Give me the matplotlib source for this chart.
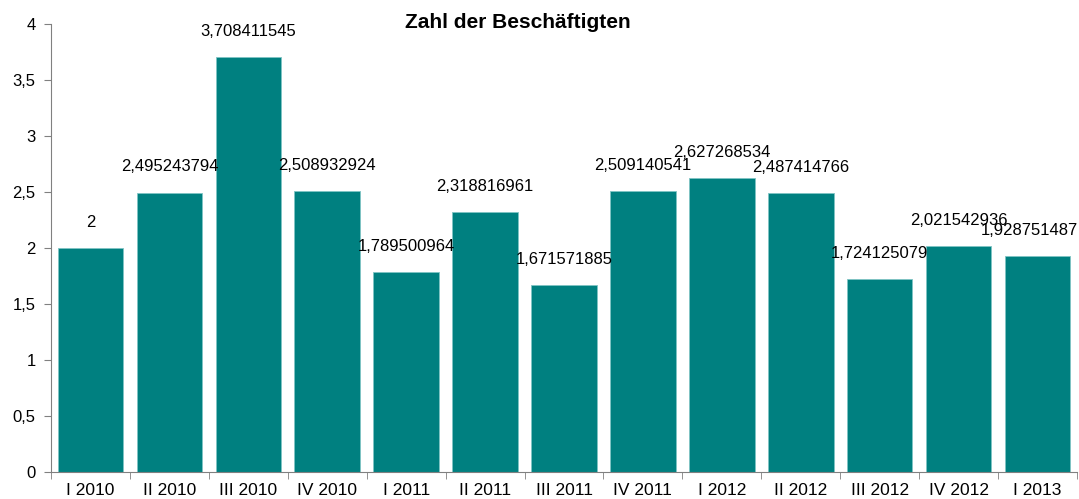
import matplotlib.pyplot as plt
import numpy as np

plt.rcParams['font.family'] = ['Liberation Sans', 'DejaVu Sans']

quarters = ["I 2010", "II 2010", "III 2010", "IV 2010", "I 2011", "II 2011",
            "III 2011", "IV 2011", "I 2012", "II 2012", "III 2012", "IV 2012",
            "I 2013"]
values = [2, 2.495243794, 3.708411545, 2.508932924, 1.789500964, 2.318816961,
          1.671571885, 2.509140541, 2.627268534, 2.487414766, 1.724125079,
          2.021542936, 1.928751487]
labels = ["2", "2,495243794", "3,708411545", "2,508932924", "1,789500964",
          "2,318816961", "1,671571885", "2,509140541", "2,627268534",
          "2,487414766", "1,724125079", "2,021542936", "1,928751487"]
yticks = [0, 0.5, 1, 1.5, 2, 2.5, 3, 3.5, 4]
ytick_labels = ["0", "0,5", "1", "1,5", "2", "2,5", "3", "3,5", "4"]

fig = plt.figure(figsize=(10.79, 4.99), dpi=100)
ax = fig.add_axes([51 / 1079, 27 / 499, 1026 / 1079, 448 / 499])

x = np.arange(len(quarters))
ax.bar(x, values, width=0.83, color="#008080", edgecolor="#7fc4c4", linewidth=0.6)

for i, (xi, v, lab) in enumerate(zip(x, values, labels)):
    # last label pushed left so it stays inside the picture, like Excel does
    dx = -6 if i == len(values) - 1 else 0
    ax.annotate(lab, (xi, v), xytext=(dx, 13), textcoords="offset points",
                ha="center", va="bottom", fontsize=12)

ax.set_xlim(-0.5, len(quarters) - 0.5)
ax.set_ylim(0, 4)
ax.set_yticks(yticks)
ax.set_yticklabels(ytick_labels, fontsize=12)
ax.set_xticks(x)
ax.set_xticklabels(quarters, fontsize=12.5)
ax.tick_params(axis="x", length=0, pad=8)
ax.set_xticks(np.arange(len(quarters) + 1) - 0.5, minor=True)
ax.tick_params(axis="x", which="minor", length=5, color="#808080")
ax.tick_params(axis="y", length=5, color="#808080", pad=6)

for s in ["top", "right"]:
    ax.spines[s].set_visible(False)
for s in ["left", "bottom"]:
    ax.spines[s].set_color("#808080")

fig.text(0.48, 1 - 22 / 499, "Zahl der Beschäftigten", ha="center", va="center",
         fontsize=15, fontweight="bold")

fig.savefig("out.png", dpi=100)
